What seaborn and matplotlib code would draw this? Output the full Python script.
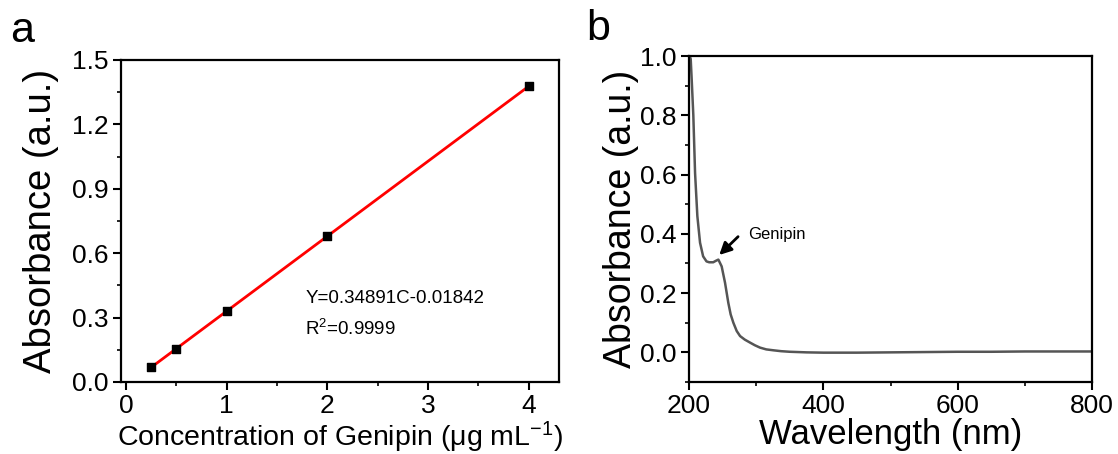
import seaborn as sns
import matplotlib.pyplot as plt
import pandas as pd
import numpy as np
from matplotlib.ticker import MultipleLocator

# panel a: calibration points
conc = [0.25, 0.5, 1.0, 2.0, 4.0]
absorb = [0.068, 0.156, 0.330, 0.679, 1.378]

# panel b: UV-vis spectrum
wavelength = [201, 202.5, 204, 206.4, 209, 212.4, 216.4, 221, 226, 230, 236, 240,
              243.7, 248.6, 253.6, 258.5, 262, 266, 271, 276, 283, 290.8, 298,
              305.7, 315, 325.5, 337, 350, 375, 400, 450, 500, 550, 600, 650,
              700, 750, 800]
spectrum = [1.0, 0.99, 0.92, 0.80, 0.605, 0.46, 0.37, 0.324, 0.307, 0.304, 0.304, 0.309,
            0.313, 0.29, 0.235, 0.167, 0.128, 0.10, 0.072, 0.055, 0.043, 0.033, 0.024,
            0.016, 0.010, 0.007, 0.004, 0.002, 0.0, -0.001, -0.001, 0.0, 0.001, 0.002, 0.002,
            0.003, 0.003, 0.003]

sns.set_style('ticks')
plt.rcParams['font.family'] = ['Liberation Sans', 'DejaVu Sans']
plt.rcParams['mathtext.fontset'] = 'custom'
plt.rcParams['mathtext.rm'] = 'Liberation Sans'
plt.rcParams['mathtext.it'] = 'Liberation Sans:italic'
for k in ['text.color', 'axes.labelcolor', 'xtick.color', 'ytick.color', 'axes.edgecolor']:
    plt.rcParams[k] = 'black'

fig = plt.figure(figsize=(11.18, 4.54), dpi=100)
ax1 = fig.add_axes([0.1082, 0.1586, 0.3918, 0.7093])
ax2 = fig.add_axes([0.6163, 0.1586, 0.3605, 0.7180])

cal_df = pd.DataFrame({'conc': conc, 'absorb': absorb})
sns.regplot(data=cal_df, x='conc', y='absorb', ax=ax1, ci=None, marker='s',
            scatter_kws={'color': 'black', 's': 30, 'zorder': 3, 'alpha': 1},
            line_kws={'color': 'red', 'lw': 2})
ax1.set_xlim(-0.05, 4.3)
ax1.set_ylim(0, 1.5)
ax1.xaxis.set_major_locator(MultipleLocator(1))
ax1.xaxis.set_minor_locator(MultipleLocator(0.5))
ax1.yaxis.set_major_locator(MultipleLocator(0.3))
ax1.yaxis.set_minor_locator(MultipleLocator(0.15))
ax1.yaxis.set_major_formatter(plt.FormatStrFormatter('%.1f'))
ax1.set_xlabel('Concentration of Genipin (\u03bcg mL$^{-1}$)', fontsize=20.5, labelpad=1)
ax1.set_ylabel('Absorbance (a.u.)', fontsize=27.5, labelpad=9)
ax1.text(1.78, 0.368, 'Y=0.34891C-0.01842', fontsize=13.5, va='baseline')
ax1.text(1.78, 0.219, 'R$^2$=0.9999', fontsize=13.5, va='baseline')

spec_df = pd.DataFrame({'wavelength': wavelength, 'absorbance': spectrum})
sns.lineplot(data=spec_df, x='wavelength', y='absorbance', ax=ax2, color='#555555', lw=1.8)
ax2.set_xlim(200, 800)
ax2.set_ylim(-0.1, 1.0)
ax2.xaxis.set_major_locator(MultipleLocator(200))
ax2.xaxis.set_minor_locator(MultipleLocator(100))
ax2.yaxis.set_major_locator(MultipleLocator(0.2))
ax2.yaxis.set_minor_locator(MultipleLocator(0.1))
ax2.yaxis.set_major_formatter(plt.FormatStrFormatter('%.1f'))
ax2.set_xlabel('Wavelength (nm)', fontsize=25, labelpad=0)
ax2.set_ylabel('Absorbance (a.u.)', fontsize=27, labelpad=1)
ax2.annotate('', xy=(242, 0.322), xytext=(276, 0.397),
             arrowprops=dict(arrowstyle='-|>', color='black', lw=2, mutation_scale=18))
ax2.text(288, 0.397, 'Genipin', fontsize=12, va='center')

for ax in (ax1, ax2):
    for s in ax.spines.values():
        s.set_visible(True)
        s.set_linewidth(1.6)
    ax.tick_params(which='major', direction='out', length=6, width=1.5, labelsize=19, pad=3,
                   top=False, right=False)
    ax.tick_params(which='minor', direction='out', length=3, width=1.2, top=False, right=False)

fig.text(10 / 1118, 1 - 42 / 454, 'a', fontsize=31, va='baseline')
fig.text(586 / 1118, 1 - 40 / 454, 'b', fontsize=31, va='baseline')

plt.savefig('out.png', dpi=100)
